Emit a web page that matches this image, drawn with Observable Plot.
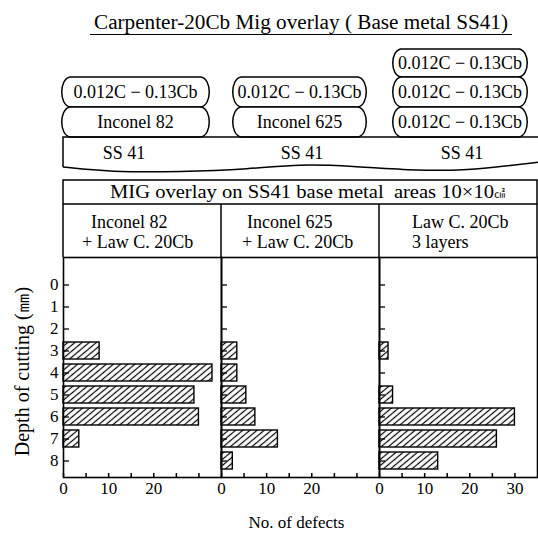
<!DOCTYPE html>
<html><head><meta charset="utf-8">
<script src="https://cdn.jsdelivr.net/npm/d3@7"></script>
<script src="https://cdn.jsdelivr.net/npm/@observablehq/plot@0.6"></script>
<style>
html,body{margin:0;padding:0;background:#fff;overflow:hidden}
svg text{font-family:"Liberation Serif","Times New Roman","DejaVu Serif",serif !important;}
</style>
</head><body><div id="chart"></div>
<script>
// ---- data ----
const title = "Carpenter-20Cb Mig overlay ( Base metal SS41)";
const depths = [0, 1, 2, 3, 4, 5, 6, 7, 8];
const panels = ["Inconel 82 + Law C. 20Cb", "Inconel 625 + Law C. 20Cb", "Law C. 20Cb 3 layers"];
const panelLines = [["Inconel 82", "+ Law C. 20Cb"], ["Inconel 625", "+ Law C. 20Cb"], ["Law C. 20Cb", "3 layers"]];
const inconel82Defects = [0, 0, 0, 8, 33, 29, 30, 3.5, 0];
const inconel625Defects = [0, 0, 0, 3.5, 3.5, 5.5, 7.5, 12.5, 2.5];
const lawC3Defects = [0, 0, 0, 2, 0, 3, 30, 26, 13];
const xTickValues = [0, 5, 10, 15, 20, 25, 30];
const xTickLabels = [[0, 10, 20], [0, 10, 20], [0, 10, 20, 30]];
const layerStacks = [["0.012C − 0.13Cb", "Inconel 82"], ["0.012C − 0.13Cb", "Inconel 625"], ["0.012C − 0.13Cb", "0.012C − 0.13Cb", "0.012C − 0.13Cb"]];
const baseMetal = "SS 41";
const tableHeader = "MIG overlay on SS41 base metal\u00A0 areas 10×10";
const unitArea = "㎠";
const yLabel = "Depth of cutting (㎜)";
const xLabel = "No. of defects";

const series = [inconel82Defects, inconel625Defects, lawC3Defects];
const rows = panels.flatMap((p, i) => depths.map((d, j) => ({panel: p, depth: d, value: series[i][j]}))).filter(r => r.value > 0);
const xLabelRows = panels.flatMap((p, i) => xTickLabels[i].map(v => ({panel: p, value: v})));

const FONT = "'Liberation Serif', 'Times New Roman', serif";
const W = 538, H = 533, ML = 63, MR = 1, MT = 257, MB = 56;
const facetW = (W - ML - MR) / 3;

const plot = Plot.plot({
  width: W, height: H,
  marginLeft: ML, marginRight: MR, marginTop: MT, marginBottom: MB,
  style: {fontFamily: FONT, fontSize: "16px", background: "#fff", color: "#000", overflow: "visible"},
  fx: {domain: panels, padding: 0, axis: null},
  x: {domain: [0, 35], axis: null},
  y: {domain: depths, paddingInner: 0.25, paddingOuter: 0.25, insetTop: 11},
  marks: [
    Plot.barX(rows, {fx: "panel", y: "depth", x: "value", fill: "url(#hatch)", stroke: "#000", strokeWidth: 1.4}),
    Plot.tickY(depths, {y: d => d, insetRight: facetW - 6, stroke: "#000", strokeWidth: 1.3}),
    Plot.tickX(xTickValues, {x: d => d, insetTop: (H - MT - MB) - 4, stroke: "#000", strokeWidth: 1.5}),
    Plot.frame({stroke: "#000", strokeWidth: 1.6}),
    Plot.axisY({tickSize: 0, tickPadding: 5, label: null, fontSize: 17}),
    Plot.text(xLabelRows, {fx: "panel", x: "value", text: d => String(d.value), frameAnchor: "bottom", lineAnchor: "top", dy: 4, fontSize: 17}),
    Plot.text([yLabel], {fx: () => panels[0], frameAnchor: "left", textAnchor: "middle", rotate: -90, dx: -41, dy: 4, fontSize: 20}),
    Plot.text([xLabel], {fx: () => panels[1], frameAnchor: "bottom", dy: 50, dx: -4, fontSize: 17})
  ]
});

const svg = d3.select(plot);
svg.insert("defs", ":first-child").html(
  `<pattern id="hatch" patternUnits="userSpaceOnUse" width="4.6" height="10" patternTransform="rotate(50)">
     <rect width="4.6" height="10" fill="#fff"/>
     <line x1="2.3" y1="-1" x2="2.3" y2="11" stroke="#000" stroke-width="1.2"/>
   </pattern>`);

// ---- header diagram (decoration) ----
const fx = plot.scale("fx");
const g = svg.append("g").attr("fill", "none").attr("stroke", "#000").attr("stroke-width", 1.5);
const tg = svg.append("g").attr("fill", "#000").attr("stroke", "none").attr("text-anchor", "start");

// title
tg.append("text").attr("x", 301).attr("y", 29).attr("text-anchor", "middle").attr("font-size", 20)
  .attr("textLength", 414).attr("lengthAdjust", "spacingAndGlyphs").text(title);
g.append("line").attr("x1", 90).attr("x2", 512).attr("y1", 34.5).attr("y2", 34.5).attr("stroke-width", 1.2);

// layered boxes
const boxCols = [[63, 208], [234, 365], [394, 526]];
const rowEdges = [137, 107, 77, 49];
function scroll(x0, x1, y0, y1) {
  const b = 7;
  return `M${x0 + b},${y0}H${x1 - b}C${x1 + 4},${y0 + 2} ${x1 + 4},${y1 - 2} ${x1 - b},${y1}` +
         `H${x0 + b}C${x0 - 4},${y1 - 2} ${x0 - 4},${y0 + 2} ${x0 + b},${y0}Z`;
}
layerStacks.forEach((stack, i) => {
  const [x0, x1] = boxCols[i];
  const n = stack.length;
  stack.forEach((label, k) => {
    const y0 = rowEdges[n - k], y1 = rowEdges[n - k - 1];
    g.append("path").attr("d", scroll(x0, x1, y0, y1)).attr("fill", "#fff");
    tg.append("text").attr("x", (x0 + x1) / 2).attr("y", (y0 + y1) / 2).attr("dy", "0.35em")
      .attr("text-anchor", "middle").attr("font-size", 18).text(label);
  });
});

// base metal band with wavy bottom
const wave = [[63, 167], [110, 172], [180, 172], [250, 169], [300, 164], [350, 166], [420, 171], [470, 170], [505, 166], [540, 162]];
g.append("path").attr("d", `M540,137H63V167`);
g.append("path").attr("d", d3.line().curve(d3.curveBasis)(wave));
[124, 302, 462].forEach(x => tg.append("text").attr("x", x).attr("y", 153).attr("dy", "0.35em")
  .attr("text-anchor", "middle").attr("font-size", 18).text(baseMetal));

// table header
const x0 = ML, x1 = W - MR;
g.append("path").attr("d", `M${x0},${MT}V180H${x1}V${MT}M${x0},204H${x1}`);
panels.slice(1).forEach(p => g.append("line").attr("x1", fx.apply(p)).attr("x2", fx.apply(p)).attr("y1", 204).attr("y2", MT));
const mig = tg.append("text").attr("x", 110).attr("y", 192).attr("dy", "0.35em").attr("text-anchor", "start").attr("font-size", 18);
mig.append("tspan").attr("textLength", 384).attr("lengthAdjust", "spacingAndGlyphs").text(tableHeader);
mig.append("tspan").attr("font-size", 11).style("font-family", "'Noto Sans CJK JP', sans-serif").text(unitArea);
const headOffsets = [[28, 19], [26, 21], [33, 33]];
panels.forEach((p, i) => {
  panelLines[i].forEach((line, k) => {
    tg.append("text").attr("x", fx.apply(p) + headOffsets[i][k]).attr("y", 222 + k * 20).attr("dy", "0.35em")
      .attr("text-anchor", "start").attr("font-size", 18).text(line);
  });
});

document.getElementById("chart").append(plot);
</script>
</body></html>
